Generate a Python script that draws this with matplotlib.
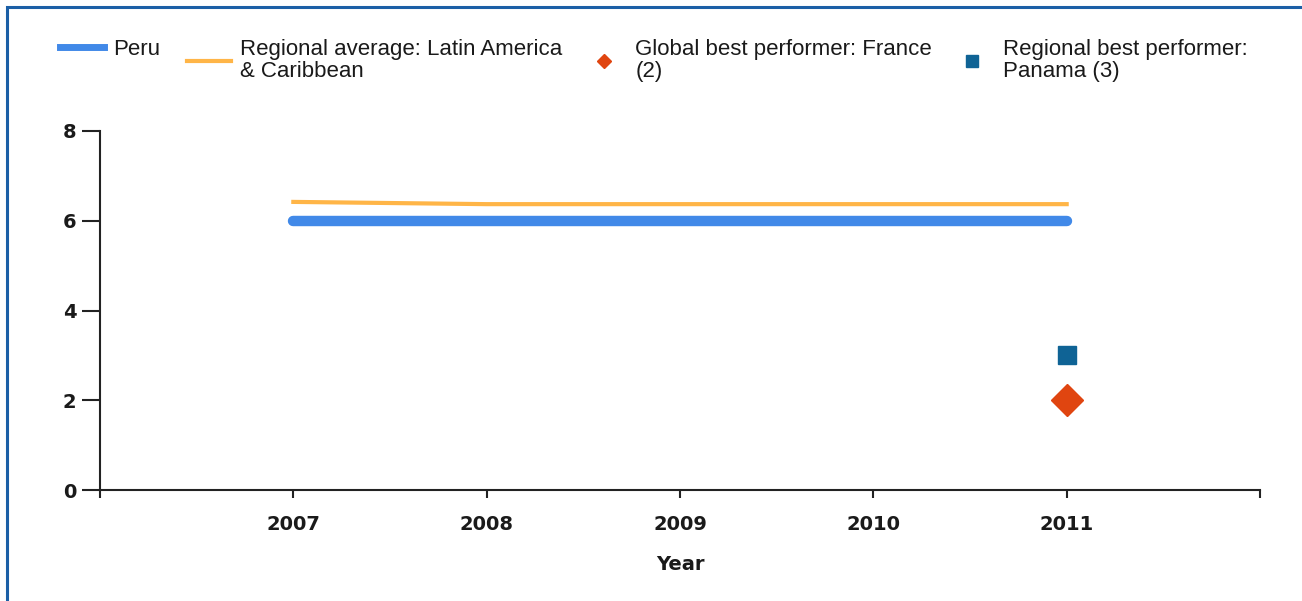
import matplotlib
matplotlib.use("Agg")
import matplotlib.pyplot as plt
from matplotlib.lines import Line2D
from matplotlib.patches import Rectangle

# Data
years = [2007, 2008, 2009, 2010, 2011]
peru = [6, 6, 6, 6, 6]
regional_avg = [6.42, 6.37, 6.37, 6.37, 6.37]
global_best_year = [2011]
global_best = [2]
regional_best_year = [2011]
regional_best = [3]
y_ticks = [0, 2, 4, 6, 8]

labels = [
    "Peru",
    "Regional average: Latin America\n& Caribbean",
    "Global best performer: France\n(2)",
    "Regional best performer:\nPanama (3)",
]

c_peru = "#4189e8"
c_avg = "#ffb547"
c_global = "#e04510"
c_regional = "#0f6395"

W, H = 1302, 601
fig = plt.figure(figsize=(W / 100, H / 100), dpi=100)
fig.patch.set_facecolor("white")

# outer frame (left and top edges)
fig.add_artist(Rectangle((7 / W, -0.01), 1.2, (H - 7) / H + 0.01,
                         transform=fig.transFigure, fill=False,
                         edgecolor="#1b5fa6", linewidth=2.2))

ax = fig.add_axes([100 / W, (H - 490) / H, 1160 / W, 359 / H])
ax.plot(years, peru, color=c_peru, lw=7.5, solid_capstyle="round", zorder=3)
ax.plot(years, regional_avg, color=c_avg, lw=3, zorder=2)
ax.plot(global_best_year, global_best, marker="D", ms=16, color=c_global,
        linestyle="none", zorder=4)
ax.plot(regional_best_year, regional_best, marker="s", ms=13.5, color=c_regional,
        linestyle="none", zorder=4)

ax.set_xlim(2006, 2012)
ax.set_ylim(0, 8)
ax.set_xticks(years)
ax.set_xticks([2006, 2012], minor=True)
ax.set_yticks(y_ticks)
for s in ("top", "right"):
    ax.spines[s].set_visible(False)
for s in ("left", "bottom"):
    ax.spines[s].set_color("#222222")
    ax.spines[s].set_linewidth(1.5)
ax.spines["left"].set_bounds(0, 8)

bold_family = ["DejaVu Sans"]
ax.tick_params(axis="x", which="both", length=6, width=1.5, color="#222222", pad=12)
ax.tick_params(axis="y", length=13, width=1.5, color="#222222", pad=4)
ax.set_xticklabels([str(y) for y in years])
ax.set_yticklabels([str(v) for v in y_ticks])
for t in ax.get_xticklabels() + ax.get_yticklabels():
    t.set_family(bold_family)
    t.set_fontweight("bold")
    t.set_fontsize(14)
    t.set_color("#1a1a1a")
ax.set_xlabel("Year", family=bold_family, fontweight="bold", fontsize=14,
              color="#1a1a1a", labelpad=15)

# legend entries placed individually along the top
leg_font = dict(family=["Liberation Sans", "DejaVu Sans"], size=16)
handles = [
    Line2D([], [], color=c_peru, lw=5),
    Line2D([], [], color=c_avg, lw=3),
    Line2D([], [], color=c_global, marker="D", ms=7, linestyle="none"),
    Line2D([], [], color=c_regional, marker="s", ms=9, linestyle="none"),
]
xpos = [51, 178, 573, 941]
for h, lab, x in zip(handles, labels, xpos):
    leg = fig.legend([h], [lab], loc="upper left",
                     bbox_to_anchor=(x / W, 1 - 30 / H),
                     frameon=False, prop=leg_font, handlelength=2.0,
                     handletextpad=0.4, borderaxespad=0, labelspacing=0)
    for t in leg.get_texts():
        t.set_color("#1a1a1a")
        t.set_linespacing(1.1)

fig.savefig("out.png", dpi=100, facecolor="white")
